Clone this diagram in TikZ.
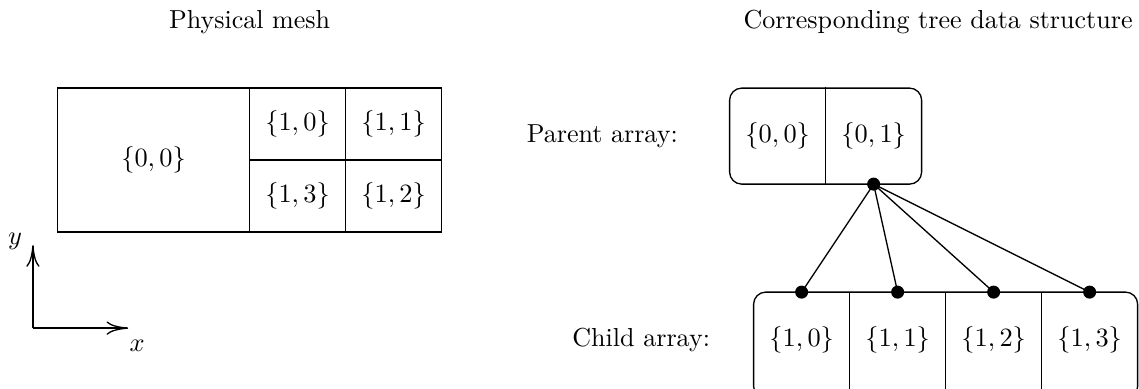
\documentclass[tikz,border=0pt]{standalone}
\usepackage{amsmath}
\usetikzlibrary{arrows.meta,positioning}

\begin{document}
\begin{tikzpicture}[line width=0.55pt, every node/.style={font=\fontsize{11.3}{13.6}\selectfont}, >={To[length=9pt,width=5.5pt]},
	lbl/.style={font=\fontsize{10.8}{13}\selectfont},
	arr/.style={draw, rounded corners=5pt, inner sep=0pt},
	knot/.style={circle, fill, inner sep=0pt, minimum size=0.19cm}]
	\useasboundingbox (0,0) rectangle (16.61,5.66);
	% physical mesh
	\node[lbl] (tmesh) at (3.64,5.34) {Physical mesh};
	\draw (0.84,2.275) rectangle (6.44,4.375);
	\draw (3.64,2.275) -- (3.64,4.375);
	\draw (5.04,2.275) -- (5.04,4.375);
	\draw (3.64,3.325) -- (6.44,3.325);
	\node (m00) at (2.24,3.325) {$\{0,0\}$};
	\node (m10) at (4.34,3.85) {$\{1,0\}$};
	\node (m11) at (5.74,3.85) {$\{1,1\}$};
	\node (m13) at (4.34,2.8) {$\{1,3\}$};
	\node (m12) at (5.74,2.8) {$\{1,2\}$};
	% axes
	\coordinate (o) at (0.48,0.875);
	\coordinate (ey) at (0.48,2.085);
	\coordinate (ex) at (1.87,0.875);
	\draw[->] (o) -- (ey);
	\draw[->] (o) -- (ex);
	\node (ly) at (0.22,2.14) {$y$};
	\node (lx) at (2.0,0.61) {$x$};
	% tree data structure
	\node[lbl] (ttree) at (13.68,5.34) {Corresponding tree data structure};
	\node[arr, minimum width=2.8cm, minimum height=1.4cm] (par) at (12.04,3.675) {};
	\draw (par.north) -- (par.south);
	\node (p0) at (11.34,3.675) {$\{0,0\}$};
	\node (p1) at (12.74,3.675) {$\{0,1\}$};
	\node[lbl, left=0.62cm of par] (lpar) {Parent array:};
	\node[arr, minimum width=5.6cm, minimum height=1.55cm] (chi) at (13.79,0.625) {};
	\foreach \x in {12.39,13.79,15.19}
		\draw (\x,-0.15) -- (\x,1.4);
	\node (c0) at (11.69,0.7) {$\{1,0\}$};
	\node (c1) at (13.09,0.7) {$\{1,1\}$};
	\node (c2) at (14.49,0.7) {$\{1,2\}$};
	\node (c3) at (15.89,0.7) {$\{1,3\}$};
	\node[lbl, left=0.5cm of chi.west|-c0] (lchi) {Child array:};
	\node[knot] (pd) at (12.74,2.975) {};
	\foreach \i/\x in {0/11.69,1/13.09,2/14.49,3/15.89} {
		\node[knot] (cd\i) at (\x,1.4) {};
		\draw (pd.center) -- (cd\i.center);
	}
\end{tikzpicture}
\end{document}
